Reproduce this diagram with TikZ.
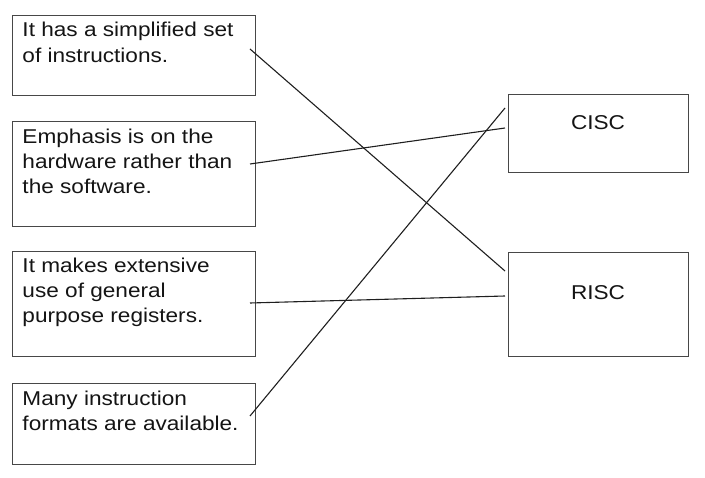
\documentclass[tikz,border=0pt]{standalone}
\usepackage{fontspec}
\setmainfont{Liberation Sans}[FakeStretch=1.13]
\begin{document}
\begin{tikzpicture}[x=1pt,y=-1pt,
  box/.style={draw=black!72, line width=1pt, inner sep=0pt, outer sep=0pt, anchor=north west},
  txt/.style={anchor=base west, inner sep=0pt, outer sep=0pt, text=black!92, font=\fontsize{20}{25}\selectfont},
  ctxt/.style={anchor=base, inner sep=0pt, outer sep=0pt, text=black!92, font=\fontsize{20}{25}\selectfont},
  link/.style={draw=black!88, line width=1.1pt}]
\useasboundingbox (0,0) rectangle (705,478);
% left boxes
\node[box, minimum width=243pt, minimum height=80pt] (b1) at (12,16) {};
\node[box, minimum width=243pt, minimum height=105pt] (b2) at (12,122) {};
\node[box, minimum width=243pt, minimum height=105pt] (b3) at (12,252) {};
\node[box, minimum width=243pt, minimum height=81pt] (b4) at (12,384) {};
% right boxes
\node[box, minimum width=180pt, minimum height=78pt] (cisc) at (508,95) {};
\node[box, minimum width=180pt, minimum height=104pt] (risc) at (508,253) {};
% texts
\node[txt] (t1a) at (22.5,37) {It has a simplified set};
\node[txt] (t1b) at (22.5,62.5) {of instructions.};
\node[txt] (t2a) at (22.5,144) {Emphasis is on the};
\node[txt] (t2b) at (22.5,169) {hardware rather than};
\node[txt] (t2c) at (22.5,194) {the software.};
\node[txt] (t3a) at (22.5,273) {It makes extensive};
\node[txt] (t3b) at (22.5,298) {use of general};
\node[txt] (t3c) at (22.5,323) {purpose registers.};
\node[txt] (t4a) at (22.5,406) {Many instruction};
\node[txt] (t4b) at (22.5,431) {formats are available.};
\node[ctxt] (tc) at (598,130) {CISC};
\node[ctxt] (tr) at (598,300) {RISC};
% connector ends
\coordinate (s1) at ([shift={(-5,-7)}]b1.east);
\coordinate (s2) at ([shift={(-5,-10.5)}]b2.east);
\coordinate (s3) at ([shift={(-5,-1.5)}]b3.east);
\coordinate (s4) at ([shift={(-5,-8.5)}]b4.east);
\coordinate (ec1) at ([shift={(-3,-6)}]cisc.west);
\coordinate (ec2) at ([shift={(-3,-26)}]cisc.west);
\coordinate (er1) at ([shift={(-3,-34)}]risc.west);
\coordinate (er2) at ([shift={(-3,-9)}]risc.west);
\draw[link] (s1) -- (er1);
\draw[link] (s2) -- (ec1);
\draw[link] (s3) -- (er2);
\draw[link] (s4) -- (ec2);
\end{tikzpicture}
\end{document}
